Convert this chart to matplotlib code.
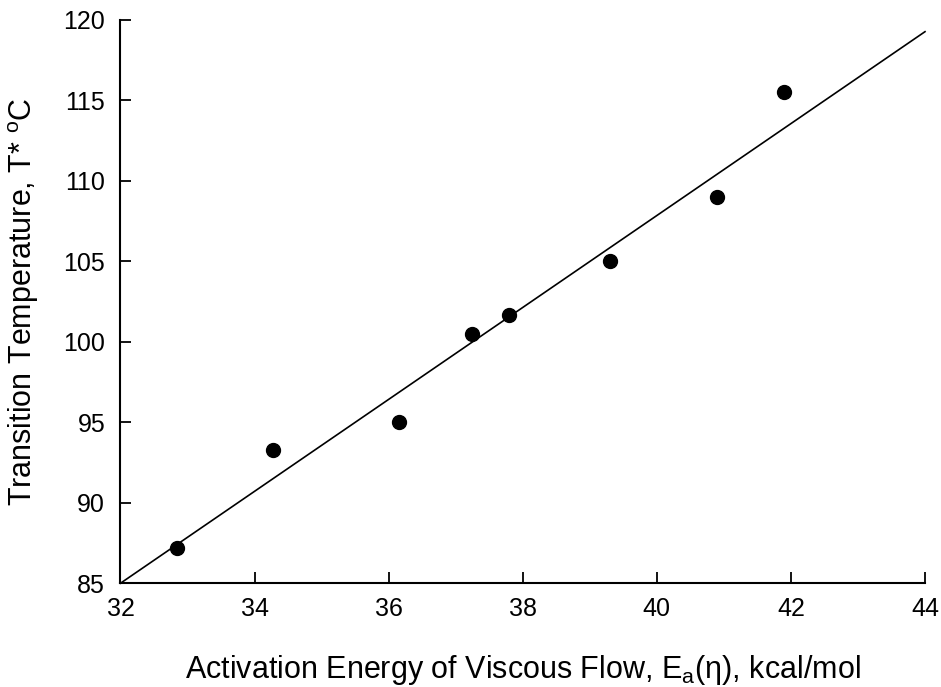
import numpy as np
import matplotlib
matplotlib.use("Agg")
import matplotlib.pyplot as plt

plt.rcParams['font.family'] = ['Liberation Sans', 'DejaVu Sans']
plt.rcParams['mathtext.fontset'] = 'custom'
plt.rcParams['mathtext.rm'] = 'Liberation Sans'
plt.rcParams['mathtext.it'] = 'Liberation Sans:italic'

# data
energy = [32.85, 34.28, 36.15, 37.25, 37.8, 39.3, 40.9, 41.9]
temp = [87.2, 93.3, 95.05, 100.5, 101.65, 105.0, 109.0, 115.5]
fit_x = [32, 44]
fit_y = [85.0, 119.27]
xticks = [32, 34, 36, 38, 40, 42, 44]
yticks = [85, 90, 95, 100, 105, 110, 115, 120]

fig = plt.figure(figsize=(9.41, 6.87), dpi=100)
ax = fig.add_axes([0.128, 0.151, 0.855, 0.820])

ax.plot(fit_x, fit_y, color='black', lw=1.2, clip_on=False)
ax.plot(energy, temp, 'o', color='black', ms=10, clip_on=False)

ax.set_xlim(32, 44)
ax.set_ylim(85, 120)
ax.set_xticks(xticks)
ax.set_yticks(yticks)

for s in ['top', 'right']:
    ax.spines[s].set_visible(False)
for s in ['left', 'bottom']:
    ax.spines[s].set_linewidth(1.5)
ax.tick_params(direction='in', length=8, width=1.3, labelsize=18)
ax.tick_params(axis='x', pad=10)
ax.tick_params(axis='y', pad=11)

ax.set_xlabel("Activation Energy of Viscous Flow, E$_\\mathrm{a}$(η), kcal/mol",
              fontsize=22, va='baseline')
ax.xaxis.set_label_coords(0.5, -0.168)
ax.set_ylabel(r"Transition Temperature, T* $^\mathrm{o}$C", fontsize=22)
ax.yaxis.set_label_coords(-0.099, 0.5)

fig.savefig("out.png", dpi=100)
